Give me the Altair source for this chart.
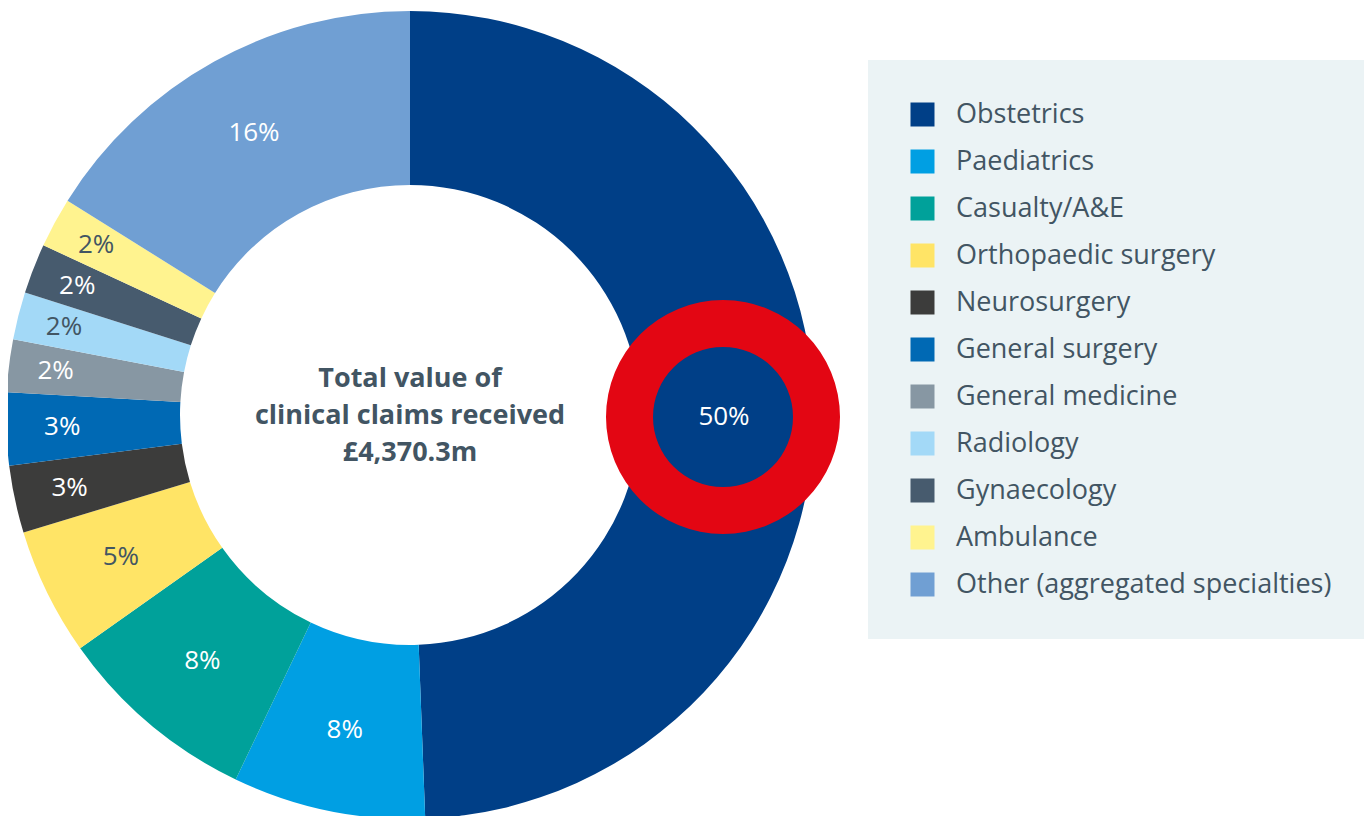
import altair as alt
import pandas as pd

categories = ["Obstetrics", "Paediatrics", "Casualty/A&E", "Orthopaedic surgery",
              "Neurosurgery", "General surgery", "General medicine", "Radiology",
              "Gynaecology", "Ambulance", "Other (aggregated specialties)"]
values = [49.4, 7.7, 8.1, 5.1, 2.7, 2.9, 2.1, 1.9, 2.0, 2.0, 16.1]
labels = ["50%", "8%", "8%", "5%", "3%", "3%", "2%", "2%", "2%", "2%", "16%"]
colors = ["#003F87", "#009FE3", "#00A19A", "#FFE466", "#3C3C3B", "#0069B4",
          "#8797A3", "#A3D9F7", "#475B6E", "#FFF38F", "#709FD3"]
dark_label = ["Orthopaedic surgery", "Radiology", "Ambulance"]
center_text = ["Total value of", "clinical claims received", "£4,370.3m"]

FONT = "Open Sans"
TEXT = "#425563"
CX, CY = 402, 407
FS = 27

df = pd.DataFrame({"cat": categories, "value": values, "label": labels,
                   "idx": list(range(len(categories)))})
total = df["value"].sum()
df["mid"] = (df["value"].cumsum() - df["value"] / 2) / total
df["tcolor"] = ["dark" if c in dark_label else "light" for c in categories]

color_scale = alt.Scale(domain=categories, range=colors)

donut = alt.Chart(df).mark_arc(innerRadius=230, outerRadius=404).encode(
    theta=alt.Theta("value:Q", stack=True),
    order=alt.Order("idx:Q"),
    color=alt.Color("cat:N", scale=color_scale,
                    legend=alt.Legend(orient="none", legendX=860, legendY=52, title=None,
                                      symbolType="square", symbolSize=576,
                                      symbolStrokeWidth=0, symbolOpacity=1,
                                      labelFontSize=FS, labelFont=FONT, labelColor=TEXT,
                                      labelOffset=20, rowPadding=19, padding=41,
                                      fillColor="#EBF3F5", labelLimit=600)),
    x=alt.value(CX), y=alt.value(CY),
)

tcol = alt.Color("tcolor:N", scale=alt.Scale(domain=["dark", "light"], range=[TEXT, "#FFFFFF"]),
                 legend=None)

def label_layer(data, r):
    return alt.Chart(data).mark_text(radius=r, fontSize=26, font=FONT).encode(
        theta=alt.Theta("mid:Q", scale=alt.Scale(domain=[0, 1]), stack=None),
        text="label:N",
        color=tcol,
        x=alt.value(CX), y=alt.value(CY),
    )

big = df[(df["value"] >= 5) & (df["idx"] > 0)]
mid3 = df[(df["value"] >= 2.5) & (df["value"] < 5)]
small = df[df["value"] < 2.5]

ring_df = df[df["idx"] == 0]
ring = alt.Chart(ring_df).mark_arc(innerRadius=70, outerRadius=117, color="#E30613").encode(
    theta=alt.Theta("value:Q", scale=alt.Scale(domain=[0, 49.4]), stack=None),
    x=alt.value(715), y=alt.value(409),
)
ring_label = alt.Chart(ring_df).mark_text(fontSize=26, font=FONT, color="#FFFFFF").encode(
    text="label:N", x=alt.value(716), y=alt.value(409),
)

center = alt.Chart(pd.DataFrame({"t": [center_text]})).mark_text(
    fontSize=27, font=FONT, fontWeight="bold", color=TEXT, lineHeight=37
).encode(text="t", x=alt.value(CX), y=alt.value(CY - 36))

chart = alt.layer(
    donut, label_layer(big, 322), label_layer(mid3, 348), label_layer(small, 357),
    ring, ring_label, center
).resolve_scale(color="independent", theta="independent").properties(
    width=1356, height=808, padding=0, autosize=alt.AutoSizeParams(type="none")
).configure_view(stroke=None)

chart.save("out.html", embed_options={"renderer": "svg", "actions": False})
